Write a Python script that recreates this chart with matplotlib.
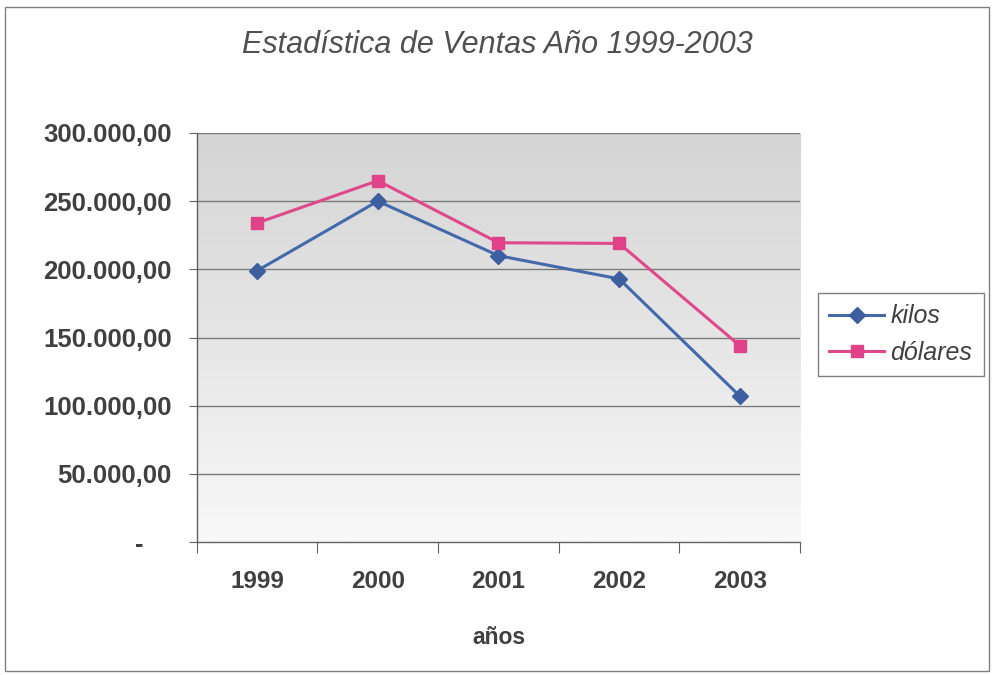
import numpy as np
import matplotlib
matplotlib.use("Agg")
import matplotlib.pyplot as plt
from matplotlib.patches import Rectangle

years = ["1999", "2000", "2001", "2002", "2003"]
kilos = [199000, 250000, 210000, 193000, 107000]
dolares = [234000, 265000, 219500, 219000, 144000]
yticks = [0, 50000, 100000, 150000, 200000, 250000, 300000]

plt.rcParams['font.family'] = ['Liberation Sans', 'DejaVu Sans']

fig = plt.figure(figsize=(9.94, 6.75), dpi=100)
fig.patch.set_facecolor('white')
ax = fig.add_axes([0.198, 0.197, 0.607, 0.606])

# gradient background
grad = np.linspace(0, 1, 256).reshape(-1, 1)
cmap = matplotlib.colors.LinearSegmentedColormap.from_list('g', ['#f8f8f8', '#d4d4d4'])
ax.imshow(grad, extent=[0, 1, 0, 1], transform=ax.transAxes, cmap=cmap,
          origin='lower', aspect='auto', zorder=0)

x = np.arange(len(years))
ax.plot(x, kilos, color='#4468ac', lw=2.2, marker='D', ms=8, mfc='#3d5f9f',
        mec='#3d5f9f', label='kilos', zorder=3)
ax.plot(x, dolares, color='#e0488c', lw=2.2, marker='s', ms=8, mfc='#e0428a',
        mec='#e0428a', label='dólares', zorder=3)

ax.set_xlim(-0.5, 4.5)
ax.set_ylim(0, 300000)
ax.set_yticks(yticks)

def fmt(v):
    if v == 0:
        return "-    "
    s = f"{int(v):,}".replace(",", ".")
    return s + ",00"
ax.set_yticklabels([fmt(v) for v in yticks], fontsize=18.5, fontweight='bold', color='#404040')
for v in yticks[1:]:
    ax.axhline(v, color='#7a7a7a', lw=1.0, zorder=1)

ax.set_xticks(np.arange(-0.5, 5.0, 1.0))
ax.set_xticklabels([])
ax.set_xticks(x, minor=True)
ax.set_xticklabels(years, minor=True, fontsize=17.5, fontweight='bold', color='#404040')
ax.tick_params(axis='x', which='major', length=8, direction='out', color='#606060')
ax.tick_params(axis='x', which='minor', length=0, pad=20)
ax.tick_params(axis='y', length=6, direction='out', color='#606060', pad=12)

for s in ['top', 'right']:
    ax.spines[s].set_visible(False)
for s in ['left', 'bottom']:
    ax.spines[s].set_color('#606060')
    ax.spines[s].set_linewidth(1.0)

ax.set_xlabel('años', fontsize=16.5, fontweight='bold', color='#404040', labelpad=24)
fig.text(0.5, 0.934, 'Estadística de Ventas Año 1999-2003', ha='center', va='center',
         fontsize=22, style='italic', color='#505050')

leg = fig.legend(loc='upper left', bbox_to_anchor=(818/994, 1-293/675), frameon=True,
                 prop={'style': 'italic', 'size': 18}, handlelength=2.2,
                 handletextpad=0.25, borderaxespad=0.0,
                 fancybox=False, borderpad=0.45, labelspacing=0.5)
leg.get_frame().set_edgecolor('#606060')
leg.get_frame().set_linewidth(1.0)
for t in leg.get_texts():
    t.set_color('#404040')

fig.patches.append(Rectangle((5/994, 4/675), 984/994, 664/675, transform=fig.transFigure,
                             fill=False, edgecolor='#808080', lw=1.0))

fig.savefig('out.png', dpi=100)
